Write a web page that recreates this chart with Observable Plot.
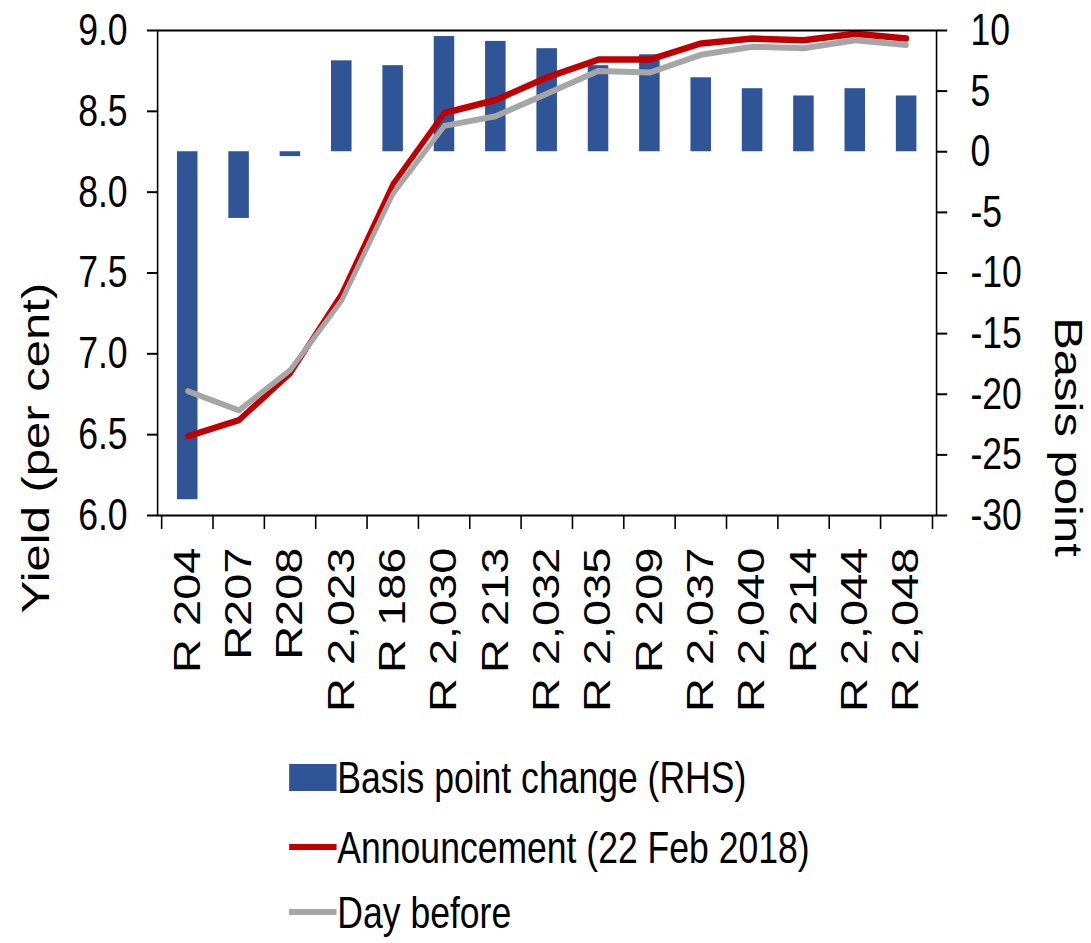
<!DOCTYPE html>
<html>
<head>
<meta charset="utf-8">
<script src="https://cdn.jsdelivr.net/npm/d3@7"></script>
<script src="https://cdn.jsdelivr.net/npm/@observablehq/plot@0.6"></script>
<style>
  html, body { margin: 0; padding: 0; background: #fff; overflow: hidden; }
  #wrap {
    position: relative; width: 1381px; height: 943px;
    transform: scaleX(0.79); transform-origin: 0 0;
    font-family: "Liberation Sans", Arial, Helvetica, sans-serif; color: #000;
  }
  #chart { position: absolute; left: 0; top: 0; }
  .title { position: absolute; font-size: 49px; white-space: nowrap; line-height: 1; }
  .legend-row { position: absolute; left: 366px; height: 50px; display: flex; align-items: center; font-size: 45px; white-space: nowrap; line-height: 1; }
  .sw { width: 60px; margin-right: 1px; flex: none; }
</style>
</head>
<body>
<div id="wrap">
  <div id="chart"></div>
  <div class="title" style="left:46px; top:448px; transform: translate(-50%,-50%) rotate(-90deg);">Yield (per cent)</div>
  <div class="title" style="left:1352px; top:437px; transform: translate(-50%,-50%) rotate(90deg);">Basis point</div>
  <div id="legend"></div>
</div>
<script>
// ---- data ----
const bonds = ["R 204", "R207", "R208", "R 2,023", "R 186", "R 2,030", "R 213", "R 2,032",
               "R 2,035", "R 209", "R 2,037", "R 2,040", "R 214", "R 2,044", "R 2,048"];
const bpChange = [-28.7, -5.5, -0.4, 7.5, 7.1, 9.5, 9.1, 8.5, 7.1, 8.0, 6.1, 5.2, 4.6, 5.2, 4.6];
const announcement = [6.49, 6.59, 6.88, 7.37, 8.05, 8.49, 8.57, 8.71, 8.82, 8.82, 8.92, 8.95, 8.94, 8.98, 8.95];
const dayBefore = [6.77, 6.65, 6.90, 7.33, 7.99, 8.41, 8.47, 8.61, 8.75, 8.74, 8.85, 8.90, 8.89, 8.94, 8.91];
const yieldTicks = [6.0, 6.5, 7.0, 7.5, 8.0, 8.5, 9.0];
const bpTicks = [-30, -25, -20, -15, -10, -5, 0, 5, 10];
const seriesNames = ["Basis point change (RHS)", "Announcement (22 Feb 2018)", "Day before"];
const colors = { bar: "#2F5597", ann: "#C00000", prev: "#A6A6A6" };

// ---- dual axis mapping (RHS basis points onto the yield scale) ----
const yDomain = [yieldTicks[0], yieldTicks[yieldTicks.length - 1]];
const bpDomain = [bpTicks[0], bpTicks[bpTicks.length - 1]];
const toY = bp => yDomain[0] + (bp - bpDomain[0]) * (yDomain[1] - yDomain[0]) / (bpDomain[1] - bpDomain[0]);
const fromY = y => bpDomain[0] + (y - yDomain[0]) * (bpDomain[1] - bpDomain[0]) / (yDomain[1] - yDomain[0]);

const rows = bonds.map((b, i) => ({ bond: b, bp: bpChange[i], ann: announcement[i], prev: dayBefore[i] }));

const W = 1381, H = 730, ML = 199, MR = 196, MT = 30, MB = 215;
const step = (W - ML - MR) / bonds.length;
const fontFamily = '"Liberation Sans", Arial, Helvetica, sans-serif';

const chart = Plot.plot({
  width: W, height: H,
  marginLeft: ML, marginRight: MR, marginTop: MT, marginBottom: MB,
  style: { fontFamily, color: "#000", background: "transparent", overflow: "visible" },
  x: { type: "band", domain: bonds, paddingInner: 0.6, paddingOuter: 0.3, axis: null },
  y: { domain: yDomain, axis: null },
  marks: [
    Plot.barY(rows, { x: "bond", y1: () => toY(0), y2: d => toY(d.bp), fill: colors.bar }),
    Plot.line(rows, { x: "bond", y: "ann", stroke: colors.ann, strokeWidth: 6.5, strokeLinejoin: "round" }),
    Plot.line(rows, { x: "bond", y: "prev", stroke: colors.prev, strokeWidth: 6, strokeLinejoin: "round" }),
    Plot.frame({ stroke: "#000", strokeWidth: 2 }),
    Plot.axisY({ anchor: "left", ticks: yieldTicks, tickFormat: d3.format(".1f"), tickSize: 13, tickPadding: 25,
                 fontSize: 45, label: null, strokeWidth: 2 }),
    Plot.axisY({ anchor: "right", ticks: bpTicks.map(toY), tickFormat: v => String(Math.round(fromY(v))),
                 tickSize: 13, tickPadding: 30, fontSize: 45, label: null, strokeWidth: 2 }),
    Plot.axisX({ ticks: bonds, tickSize: 0, tickPadding: 32, tickRotate: -90, fontSize: 47, label: null }),
    Plot.axisX({ ticks: bonds, tickSize: 14, fill: "none", dx: -step / 2, label: null, strokeWidth: 2 }),
    Plot.axisX({ ticks: [bonds[bonds.length - 1]], tickSize: 14, fill: "none", dx: step / 2, label: null, strokeWidth: 2 })
  ]
});
document.getElementById("chart").appendChild(chart);

// ---- legend ----
const legend = document.getElementById("legend");
const rowsY = [752, 822, 887];
const swatches = [
  { h: 27, c: colors.bar },
  { h: 6, c: colors.ann },
  { h: 6, c: colors.prev }
];
seriesNames.forEach((name, i) => {
  const row = document.createElement("div");
  row.className = "legend-row";
  row.style.top = rowsY[i] + "px";
  const sw = document.createElement("div");
  sw.className = "sw";
  sw.style.height = swatches[i].h + "px";
  sw.style.background = swatches[i].c;
  const t = document.createElement("span");
  t.textContent = name;
  row.appendChild(sw);
  row.appendChild(t);
  legend.appendChild(row);
});
</script>
</body>
</html>
